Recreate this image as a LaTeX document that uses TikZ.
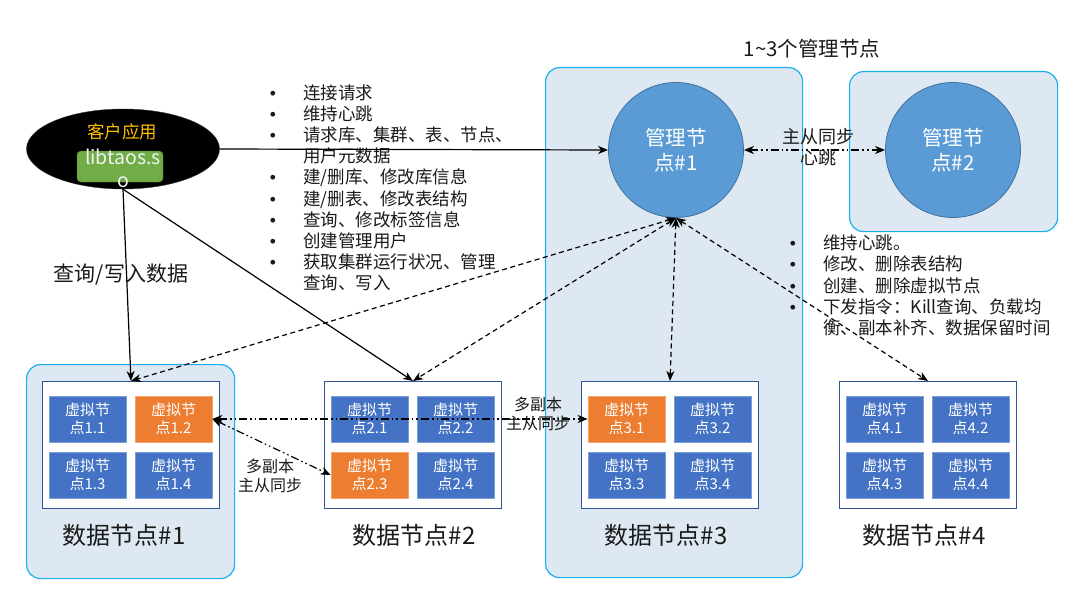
\documentclass[tikz,border=0pt]{standalone}
\usepackage{fontspec}
\setmainfont{Noto Sans CJK SC}
\newfontfamily\latf{Liberation Sans}
\usetikzlibrary{arrows.meta,shapes.geometric}
\definecolor{contfill}{HTML}{DEE8F3}
\definecolor{contdraw}{HTML}{1AB0EE}
\definecolor{circfill}{HTML}{5B9BD5}
\definecolor{circdraw}{HTML}{41719C}
\definecolor{vblue}{HTML}{4472C4}
\definecolor{vorange}{HTML}{ED7D31}
\definecolor{innerdraw}{HTML}{2F5597}
\definecolor{libgreen}{HTML}{70AD47}
\definecolor{libdraw}{HTML}{548235}
\definecolor{gold}{HTML}{FFC000}
\definecolor{txt}{HTML}{1A1A1A}
\begin{document}
\begin{tikzpicture}[x=1pt,y=-1pt,
  container/.style={draw=contdraw, fill=contfill, line width=1.2pt, rounded corners=14pt, anchor=north west, inner sep=0},
  mgmt/.style={circle, draw=circdraw, fill=circfill, line width=0.8pt, minimum size=135pt, inner sep=0, text=white, align=center, font=\fontsize{20.5}{25}\selectfont},
  innerbox/.style={draw=innerdraw, fill=white, line width=1pt, minimum width=177pt, minimum height=127pt, anchor=north west, inner sep=0},
  vnode/.style={minimum width=77pt, minimum height=46pt, inner sep=0, text=white, align=center, line width=0.7pt, font=\fontsize{15}{18}\selectfont},
  dnlabel/.style={text=txt, font=\fontsize{24}{27}\selectfont, inner sep=0},
  listtxt/.style={text=txt, font=\fontsize{17.5}{21}\selectfont, inner sep=0, anchor=base west},
  lbl/.style={text=txt, align=center, inner sep=0},
  tip/.style={-{Stealth[length=10pt,width=8pt,inset=3pt]}},
  tips/.style={{Stealth[length=10pt,width=8pt,inset=3pt]}-{Stealth[length=10pt,width=8pt,inset=3pt]}},
  solidcon/.style={tip, line width=1.2pt, draw=black},
  dashcon/.style={tips, line width=1.2pt, draw=black, dash pattern=on 5pt off 3.5pt},
  dotcon/.style={tips, line width=1.2pt, draw=black, dash pattern=on 8pt off 3pt on 1.6pt off 3pt on 1.6pt off 3pt}
]
\useasboundingbox (0,0) rectangle (1080,594);
\fill[white] (0,0) rectangle (1080,594);

% containers
\node[container, minimum width=257pt, minimum height=510pt] (c3) at (545,67) {};
\node[container, minimum width=208pt, minimum height=160pt] (c2) at (849,71) {};
\node[container, minimum width=208pt, minimum height=214pt] (c1) at (26,364) {};

% title
\node[lbl, font=\fontsize{20.5}{24}\selectfont] (title) at (812,49) {1\textasciitilde 3个管理节点};

% management nodes
\node[mgmt] (m1) at (676,150) {管理节\\点\#1};
\node[mgmt] (m2) at (953,150) {管理节\\点\#2};

% client
\node[ellipse, fill=black, draw=black!80, minimum width=193pt, minimum height=80pt, inner sep=0] (client) at (123,149) {};
\node[lbl, text=gold, font=\fontsize{17.5}{21}\selectfont] (clientlbl) at (122,132) {客户应用};
\node[draw=libdraw, fill=libgreen, rounded corners=4pt, minimum width=86pt, minimum height=31pt, inner sep=0] (lib) at (120,166.5) {};
\node[lbl, text=white!95!black, font=\fontsize{19.5}{23}\selectfont] (libtxt) at (123,168.5) {libtaos.s\\o};

% data nodes
\foreach \i/\x/\fa/\fb/\fc/\fd in {1/42/vblue/vorange/vblue/vblue, 2/324/vblue/vblue/vorange/vblue, 3/581/vorange/vblue/vblue/vblue, 4/839/vblue/vblue/vblue/vblue}{
  \node[innerbox] (dn\i) at (\x,381) {};
  \node[vnode, fill=\fa, draw=\fa!70!white] (v\i1) at (\x+45.5,419) {虚拟节\\点\i.1};
  \node[vnode, fill=\fb, draw=\fb!70!white] (v\i2) at (\x+131.5,419) {虚拟节\\点\i.2};
  \node[vnode, fill=\fc, draw=\fc!70!white] (v\i3) at (\x+45.5,475) {虚拟节\\点\i.3};
  \node[vnode, fill=\fd, draw=\fd!70!white] (v\i4) at (\x+131.5,475) {虚拟节\\点\i.4};
}
\node[dnlabel] (dl1) at (124,535) {数据节点\#1};
\node[dnlabel] (dl2) at (414,535) {数据节点\#2};
\node[dnlabel] (dl3) at (666,535) {数据节点\#3};
\node[dnlabel] (dl4) at (924,535) {数据节点\#4};

% list 1
\foreach \k/\b/\t in {0/1/{连接请求}, 1/1/{维持心跳}, 2/1/{请求库、集群、表、节点、}, 3/0/{用户元数据}, 4/1/{建/删库、修改库信息}, 5/1/{建/删表、修改表结构}, 6/1/{查询、修改标签信息}, 7/1/{创建管理用户}, 8/1/{获取集群运行状况、管理}, 9/0/{查询、写入}}{
  \node[listtxt] (la\k) at (303,99.5+21.1*\k) {\t};
  \ifnum\b=1 \node[listtxt, anchor=base] (ba\k) at (273,99.5+21.1*\k) {\latf •}; \fi
}
% list 2
\foreach \k/\b/\t in {0/1/{维持心跳。}, 1/1/{修改、删除表结构}, 2/1/{创建、删除虚拟节点}, 3/1/{下发指令：Kill查询、负载均}, 4/0/{衡、副本补齐、数据保留时间}}{
  \node[listtxt] (lb\k) at (823,249.5+21.25*\k) {\t};
  \ifnum\b=1 \node[listtxt, anchor=base] (bb\k) at (793,249.5+21.25*\k) {\latf •}; \fi
}

\node[lbl, font=\fontsize{21}{24}\selectfont] (qw) at (121,275) {查询/写入数据};

% connectors
\draw[solidcon] (client.east) -- (m1.west);
\draw[solidcon] (client.south) -- (dn1.north);
\draw[solidcon] (client.south) -- (dn2.north);
\foreach \i in {1,2,3,4} \draw[dashcon] (m1.south) -- (dn\i.north);
\draw[dotcon] (m1.east) -- (m2.west);
\draw[dotcon] (v12.east) -- (v31.west);
\draw[dotcon] (v12.east) -- (v23.west);

% connector labels
\node[lbl, font=\fontsize{18}{21}\selectfont] (hb) at (818,147) {主从同步\\心跳};
\node[lbl, font=\fontsize{16}{18.5}\selectfont] (rep1) at (538,414) {多副本\\主从同步};
\node[lbl, font=\fontsize{16}{18.5}\selectfont] (rep2) at (270,476) {多副本\\主从同步};
\end{tikzpicture}
\end{document}
